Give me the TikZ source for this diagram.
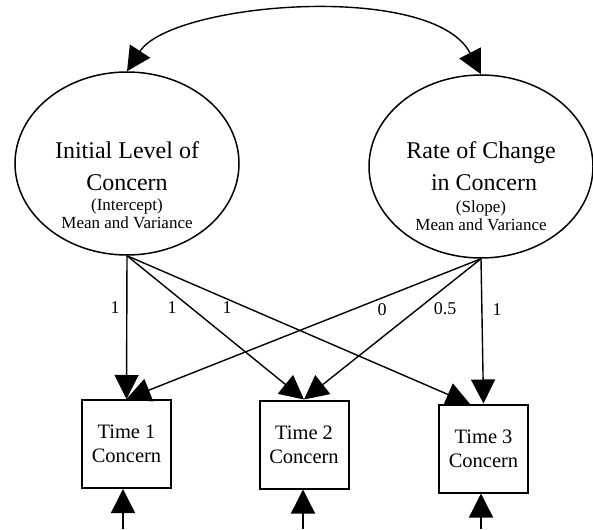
\documentclass[tikz,border=0pt]{standalone}
\usepackage{fontspec}
\setmainfont{Liberation Serif}
\usetikzlibrary{arrows.meta,shapes.geometric,calc}
\tikzset{
  latent/.style={ellipse,draw,line width=1.5pt,minimum width=224pt,minimum height=183pt,inner sep=0pt},
  obs/.style={rectangle,draw,line width=2pt,minimum width=89pt,minimum height=88pt,inner sep=0pt,align=center,font=\fontsize{20.5}{24}\selectfont},
  bigtxt/.style={align=center,inner sep=0pt,font=\fontsize{24}{32}\selectfont},
  smalltxt/.style={align=center,inner sep=0pt,font=\fontsize{17}{18}\selectfont},
  lab/.style={inner sep=0pt,font=\fontsize{18}{18}\selectfont},
  arr/.style={line width=1.4pt,-{Triangle[length=24pt,width=24pt]}},
  cov/.style={line width=1.4pt,{Triangle[length=24pt,width=24pt]}-{Triangle[length=24pt,width=24pt]}}
}
\begin{document}
\begin{tikzpicture}[x=1pt,y=-1pt]
\useasboundingbox (0,0) rectangle (593,529);
\node[latent] (I) at (127,163.5) {};
\node[latent] (S) at (481,166.5) {};
\node[bigtxt] (It) at (127,166) {Initial Level of\\Concern};
\node[smalltxt] (Is) at (127,214) {(Intercept)\\Mean and Variance};
\node[bigtxt] (St) at (481,166) {Rate of Change\\\ in Concern};
\node[smalltxt] (Ss) at (481,216) {(Slope)\\Mean and Variance};
\node[obs] (T1) at (126.5,444) {Time 1\\Concern};
\node[obs] (T2) at (304,444.5) {Time 2\\Concern};
\node[obs] (T3) at (483.5,448.5) {Time 3\\Concern};
\coordinate (T3l) at (470,404);
\coordinate (b1) at (123,529);
\coordinate (b2) at (303,529);
\coordinate (b3) at (481,529);
\draw[cov] (I.north) .. controls (172,2) and (433,-19) .. (S.north);
\draw[arr] (I.south) -- (T1.north);
\draw[arr] (I.south) -- (T2.north);
\draw[arr] (I.south) -- (T3l);
\draw[arr] (S.south) -- (T1.north);
\draw[arr] (S.south) -- (T2.north);
\draw[arr] (S.south) -- (T3.north);
\draw[arr] (b1) -- (b1 |- T1.south);
\draw[arr] (b2) -- (b2 |- T2.south);
\draw[arr] (b3) -- (b3 |- T3.south);
\node[lab] (l1) at (115,308) {1};
\node[lab] (l2) at (172,308) {1};
\node[lab] (l3) at (227,308) {1};
\node[lab] (l4) at (382,310) {0};
\node[lab] (l5) at (445,309) {0.5};
\node[lab] (l6) at (497,310) {1};
\end{tikzpicture}
\end{document}
